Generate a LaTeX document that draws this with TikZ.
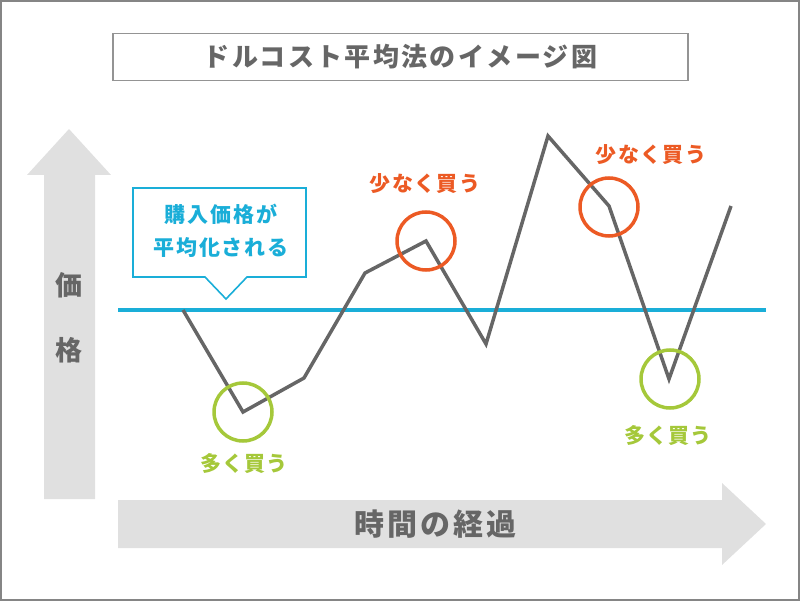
\documentclass[tikz,border=0pt]{standalone}
\usepackage{fontspec}
\setmainfont{Noto Sans CJK JP}
\usetikzlibrary{positioning}

\definecolor{txtgray}{HTML}{666666}
\definecolor{arrowgray}{HTML}{E0E0E0}
\definecolor{avgblue}{HTML}{1AAED8}
\definecolor{buyorange}{HTML}{EC5A24}
\definecolor{buygreen}{HTML}{A5C83A}

\begin{document}
\begin{tikzpicture}[x=1pt, y=-1pt,
    frame/.style={draw=txtgray!80, line width=2pt},
    titlebox/.style={rectangle, draw=txtgray!70, line width=1.5pt, minimum width=575pt,
                minimum height=47pt, text=txtgray,
                font=\fontsize{26}{30}\selectfont\bfseries\addfontfeature{LetterSpace=9}},
    axisarrow/.style={fill=arrowgray, draw=none},
    axislabel/.style={font=\fontsize{27}{30}\selectfont\bfseries, text=txtgray},
    avgline/.style={avgblue, line width=3.5pt},
    priceline/.style={txtgray, line width=3.5pt, line join=miter},
    buycircle/.style={circle, line width=3.5pt, minimum size=58pt, inner sep=0pt},
    buylabel/.style={font=\fontsize{21}{24}\selectfont\bfseries\addfontfeature{LetterSpace=6},
                inner sep=1pt},
    callout/.style={draw=avgblue, fill=white, line width=1.6pt, line join=miter}
]
    % frame and title
    \draw[frame] (1,1) rectangle (799,600);
    \node[titlebox] (title) at (400.5,57) {ドルコスト平均法のイメージ図};

    % axes
    \fill[axisarrow] (44,499) -- (44,175) -- (27,175) -- (69,129) -- (111,175)
        -- (95,175) -- (95,499) -- cycle;
    \fill[axisarrow] (118,500) -- (722,500) -- (722,483) -- (766,524) -- (722,565)
        -- (722,548) -- (118,548) -- cycle;
    \node[axislabel] (ylab1) at (69,285) {価};
    \node[axislabel] (ylab2) at (69,350) {格};
    \node[axislabel, font=\fontsize{30}{34}\selectfont\bfseries\addfontfeature{LetterSpace=10}]
        (xlab) at (435,524) {時間の経過};

    % average price
    \coordinate (avgL) at (118,310);
    \coordinate (avgR) at (766,310);
    \draw[avgline] (avgL) -- (avgR);

    % price
    \coordinate (p0) at (183,310);
    \coordinate (p1) at (243,412);
    \coordinate (p2) at (304,378);
    \coordinate (p3) at (365,273);
    \coordinate (p4) at (426,241);
    \coordinate (p5) at (486,344);
    \coordinate (p6) at (548,136);
    \coordinate (p7) at (609,206);
    \coordinate (p8) at (669,379);
    \coordinate (p9) at (731,206);
    \draw[priceline] (p0) -- (p1) -- (p2) -- (p3) -- (p4) -- (p5) -- (p6) -- (p7) -- (p8) -- (p9);

    % buy more / buy less
    \node[buycircle, draw=buygreen] (low1) at (243,412) {};
    \node[buycircle, draw=buyorange] (high1) at (426,241) {};
    \node[buycircle, draw=buyorange] (high2) at (609,207) {};
    \node[buycircle, draw=buygreen] (low2) at (670,379) {};

    \node[buylabel, text=buygreen] (more1) at (244,464) {多く買う};
    \node[buylabel, text=buyorange] (less1) at (425,184) {少なく買う};
    \node[buylabel, text=buyorange] (less2) at (651,155) {少なく買う};
    \node[buylabel, text=buygreen] (more2) at (668,436) {多く買う};

    % speech bubble
    \draw[callout] (133,188) -- (306,188) -- (306,277) -- (247,277) -- (226,299)
        -- (205,277) -- (133,277) -- cycle;
    \node[buylabel, text=avgblue, align=center,
          font=\fontsize{21}{33}\selectfont\bfseries\addfontfeature{LetterSpace=9}]
        (note) at (221,231) {購入価格が\\平均化される};
\end{tikzpicture}
\end{document}
